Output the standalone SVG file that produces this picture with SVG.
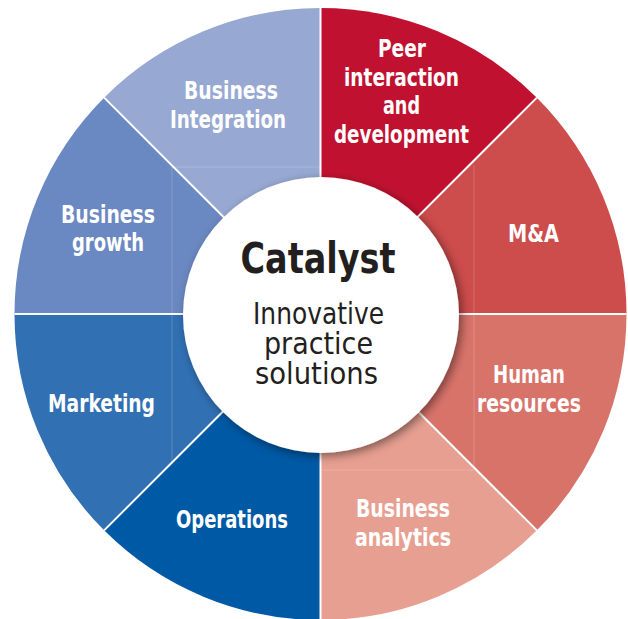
<svg xmlns="http://www.w3.org/2000/svg" width="628" height="619" viewBox="0 0 628 619">
<defs>
<style>
.lbl{font-family:"Liberation Sans Narrow","DejaVu Sans Condensed","Roboto Condensed",Roboto,"Liberation Sans",sans-serif;font-weight:bold;font-size:24px;fill:#ffffff;text-anchor:middle}
.title{font-family:"Liberation Sans Narrow","DejaVu Sans Condensed","Roboto Condensed",Roboto,"Liberation Sans",sans-serif;font-weight:bold;font-size:42px;fill:#231f20;text-anchor:middle}
.sub{font-family:"Liberation Sans Narrow","DejaVu Sans Condensed","Roboto Condensed",Roboto,"Liberation Sans",sans-serif;font-weight:normal;font-size:31px;fill:#231f20;text-anchor:middle}
.sep{stroke:#ffffff;stroke-width:2;fill:none}
.guide{stroke:#ffffff;stroke-opacity:0.18;stroke-width:1;fill:none}
</style>
<filter id="shadow" x="-20%" y="-20%" width="140%" height="140%">
<feDropShadow dx="3" dy="3" stdDeviation="5" flood-color="#000000" flood-opacity="0.45"/>
</filter>
</defs>

<g id="seg-integration"><path d="M320.5,314 L104.13,97.63 A306,306 0 0 1 320.5,8 Z" fill="#97a8d2"/><text class="lbl" x="231" y="99" textLength="94" lengthAdjust="spacingAndGlyphs">Business</text><text class="lbl" x="228" y="128" textLength="116" lengthAdjust="spacingAndGlyphs">Integration</text></g>
<g id="seg-peer"><path d="M320.5,314 L320.5,8 A306,306 0 0 1 536.87,97.63 Z" fill="#c01230"/><text class="lbl" x="402" y="57" textLength="48" lengthAdjust="spacingAndGlyphs">Peer</text><text class="lbl" x="401.5" y="86" textLength="115" lengthAdjust="spacingAndGlyphs">interaction</text><text class="lbl" x="401.5" y="114" textLength="37" lengthAdjust="spacingAndGlyphs">and</text><text class="lbl" x="401.5" y="143" textLength="135" lengthAdjust="spacingAndGlyphs">development</text></g>
<g id="seg-ma"><path d="M320.5,314 L536.87,97.63 A306,306 0 0 1 626.5,314 Z" fill="#cd4c4c"/><text class="lbl" x="533.5" y="242" textLength="51" lengthAdjust="spacingAndGlyphs">M&amp;A</text></g>
<g id="seg-hr"><path d="M320.5,314 L626.5,314 A306,306 0 0 1 536.87,530.37 Z" fill="#d8736a"/><text class="lbl" x="529" y="383" textLength="72" lengthAdjust="spacingAndGlyphs">Human</text><text class="lbl" x="529" y="412" textLength="104" lengthAdjust="spacingAndGlyphs">resources</text></g>
<g id="seg-analytics"><path d="M320.5,314 L536.87,530.37 A306,306 0 0 1 320.5,620 Z" fill="#e79f91"/><text class="lbl" x="403" y="517" textLength="94" lengthAdjust="spacingAndGlyphs">Business</text><text class="lbl" x="403" y="546" textLength="96" lengthAdjust="spacingAndGlyphs">analytics</text></g>
<g id="seg-operations"><path d="M320.5,314 L320.5,620 A306,306 0 0 1 104.13,530.37 Z" fill="#0059a5"/><text class="lbl" x="232" y="528" textLength="112" lengthAdjust="spacingAndGlyphs">Operations</text></g>
<g id="seg-marketing"><path d="M320.5,314 L104.13,530.37 A306,306 0 0 1 14.5,314 Z" fill="#3170b3"/><text class="lbl" x="101.5" y="412" textLength="107" lengthAdjust="spacingAndGlyphs">Marketing</text></g>
<g id="seg-growth"><path d="M320.5,314 L14.5,314 A306,306 0 0 1 104.13,97.63 Z" fill="#6a88c1"/><text class="lbl" x="108" y="223" textLength="94" lengthAdjust="spacingAndGlyphs">Business</text><text class="lbl" x="108" y="251" textLength="72" lengthAdjust="spacingAndGlyphs">growth</text></g>

<g id="guides">
<path class="guide" d="M172,167 V462 M173,167 H320 M474,165 V468 M320,470 H474"/>
</g>

<g id="connectors">
<path class="sep" d="M320.5,314 L320.5,8 M320.5,314 L320.5,620 M320.5,314 L14.5,314 M320.5,314 L626.5,314 M320.5,314 L104.13,97.63 M320.5,314 L536.87,97.63 M320.5,314 L536.87,530.37 M320.5,314 L104.13,530.37"/>
</g>

<g id="center">
<circle cx="321" cy="315" r="138" fill="#ffffff" filter="url(#shadow)"/>
<text class="title" x="318" y="273" textLength="155" lengthAdjust="spacingAndGlyphs">Catalyst</text>
<text class="sub" x="318.5" y="324" textLength="131" lengthAdjust="spacingAndGlyphs">Innovative</text>
<text class="sub" x="318.5" y="354" textLength="109" lengthAdjust="spacingAndGlyphs">practice</text>
<text class="sub" x="316.5" y="384" textLength="123" lengthAdjust="spacingAndGlyphs">solutions</text>
</g>
</svg>
